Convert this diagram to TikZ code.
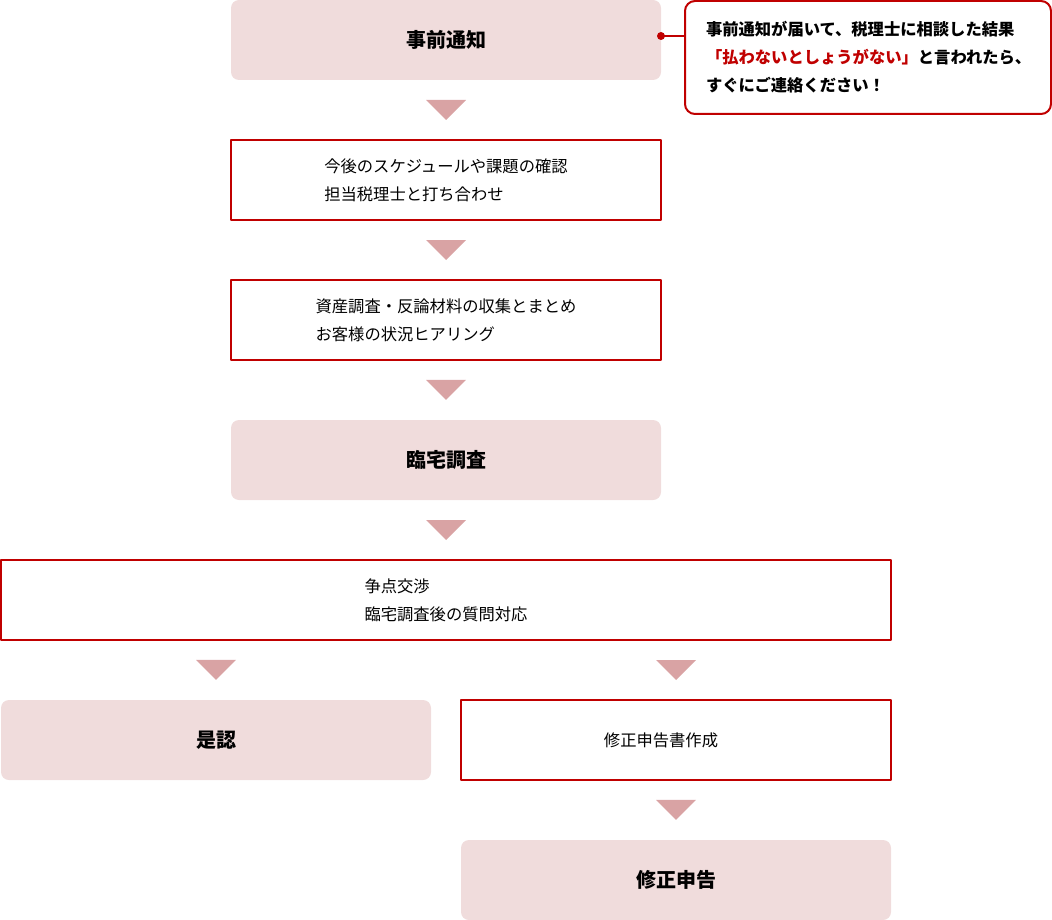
\documentclass[tikz,border=0pt]{standalone}
\usepackage{fontspec}
\setmainfont{Noto Sans CJK JP}
\definecolor{boxred}{HTML}{C00000}
\definecolor{boxpink}{HTML}{F0DCDC}
\definecolor{arrpink}{HTML}{D9A3A4}
\tikzset{
	pinkbox/.style={fill=boxpink, rounded corners=8, minimum width=430, minimum height=80, inner sep=0, font=\fontsize{20}{24}\selectfont\bfseries},
	redbox/.style={draw=boxred, line width=2, minimum width=430, minimum height=80, inner sep=0, outer sep=0, align=left, font=\fontsize{16.3}{28}\selectfont},
	callbox/.style={draw=boxred, line width=2, rounded corners=10, text width=324, inner xsep=21, inner ysep=0, minimum height=113, align=left, font=\fontsize{16.3}{28}\selectfont\bfseries},
	arr/.style={fill=arrpink}
}
% triangle above a node
\newcommand\dnarrow[1]{\fill[arr] ([shift={(-20,-40)}]#1.north) -- ++(40,0) -- ++(-20,20) -- cycle;}
\begin{document}
\begin{tikzpicture}[x=1pt,y=-1pt, line join=round]
	\useasboundingbox (0,0) rectangle (1052,920);
	\node[pinkbox] (notice) at (446,40) {事前通知};
	\node[redbox] (plan) at (446,180) {今後のスケジュールや課題の確認\\担当税理士と打ち合わせ};
	\node[redbox] (survey) at (446,320) {資産調査・反論材料の収集とまとめ\\お客様の状況ヒアリング};
	\node[pinkbox] (visit) at (446,460) {臨宅調査};
	\node[redbox, minimum width=890] (nego) at (446,600) {争点交渉\\臨宅調査後の質問対応};
	\node[pinkbox] (approve) at (216,740) {是認};
	\node[redbox] (amend) at (676,740) {};
	\node[font=\fontsize{16.3}{28}\selectfont] (amendtext) at (661,740) {修正申告書作成};
	\node[pinkbox] (final) at (676,880) {修正申告};
	\foreach \n in {plan,survey,visit,nego,approve,amend,final} {\dnarrow{\n}}
	% callout
	\node[callbox] (callout) at (868,57.5) {事前通知が届いて、税理士に相談した結果\\\textcolor{boxred}{「払わないとしょうがない」}と言われたら、\\すぐにご連絡ください！};
	\coordinate (dot) at (661,36);
	\draw[boxred, line width=2] (dot) -- (dot -| callout.west);
	\fill[boxred] (dot) circle (4);
\end{tikzpicture}
\end{document}
